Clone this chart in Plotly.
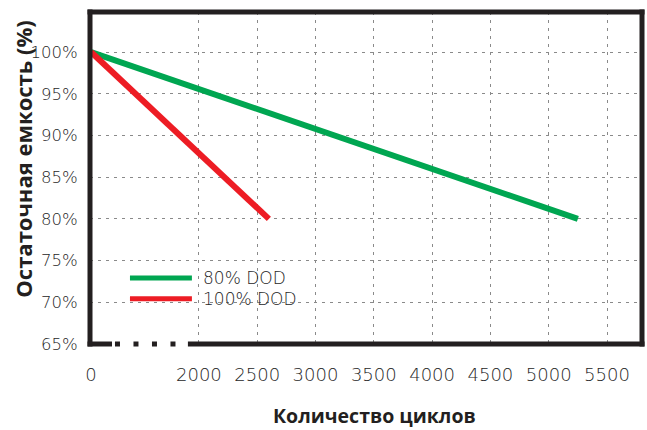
import plotly.graph_objects as go

# ---- data ----
series_names = ["80% DOD", "100% DOD"]
series_colors = ["#00A651", "#ED1C24"]
cycles_80 = [0, 5250]
capacity_80 = [100, 80]
cycles_100 = [0, 2600]
capacity_100 = [100, 80]
x_tick_values = [0, 2000, 2500, 3000, 3500, 4000, 4500, 5000, 5500]
x_tick_labels = ["0", "2000", "2500", "3000", "3500", "4000", "4500", "5000", "5500"]
y_tick_values = [65, 70, 75, 80, 85, 90, 95, 100]
y_tick_labels = ["65%", "70%", "75%", "80%", "85%", "90%", "95%", "100%"]
x_title = "Количество циклов"
y_title = "Остаточная емкость (%)"

# ---- broken x axis: 0..2000 cycles compressed ----
BREAK_FROM = 2000
ZERO_POS = 1075


def axis_pos(c):
    if c >= BREAK_FROM:
        return c
    return ZERO_POS + c * (BREAK_FROM - ZERO_POS) / BREAK_FROM


W, H = 647, 430
L, R, T, B = 90, 4.5, 11.7, 85.8
PW, PH = W - L - R, H - T - B


def px_x(p):
    return (p - L) / PW


def px_y(p):
    return (H - B - p) / PH


fig = go.Figure()
for name, color, xs, ys in [
    (series_names[0], series_colors[0], cycles_80, capacity_80),
    (series_names[1], series_colors[1], cycles_100, capacity_100),
]:
    fig.add_trace(go.Scatter(
        x=[axis_pos(v) for v in xs], y=ys, mode="lines", name=name,
        line=dict(color=color, width=6), showlegend=False,
        hoverinfo="skip",
    ))

text_color = "#262626"
grid = dict(showgrid=True, gridcolor="#8a8a8a", gridwidth=1, griddash="3px,5px",
            zeroline=False, showline=False)

fig.update_xaxes(
    range=[1066, 5800], tickmode="array",
    tickvals=[axis_pos(v) for v in x_tick_values], ticktext=x_tick_labels,
    ticks="outside", ticklen=14, tickcolor="rgba(0,0,0,0)",
    tickfont=dict(family="DejaVu Sans", size=18, color=text_color, weight=200),
    **grid,
)
fig.update_yaxes(
    range=[65, 104.8], tickmode="array", tickvals=y_tick_values, ticktext=y_tick_labels,
    ticks="outside", ticklen=8, tickcolor="rgba(0,0,0,0)",
    tickfont=dict(family="DejaVu Sans", size=16.5, color=text_color, weight=200),
    **grid,
)

frame = "#231F20"
ext_x = 2.5 / PW
ext_y = 2.5 / PH
shapes = [
    # top, left, right borders
    dict(type="line", xref="paper", yref="paper", x0=-ext_x, x1=1 + ext_x, y0=1, y1=1,
         line=dict(color=frame, width=5), layer="above"),
    dict(type="line", xref="paper", yref="paper", x0=0, x1=0, y0=-ext_y, y1=1 + ext_y,
         line=dict(color=frame, width=5), layer="above"),
    dict(type="line", xref="paper", yref="paper", x0=1, x1=1, y0=-ext_y, y1=1 + ext_y,
         line=dict(color=frame, width=5), layer="above"),
    # bottom border with axis-break dots
    dict(type="line", xref="paper", yref="paper", x0=-ext_x, x1=px_x(112), y0=0, y1=0,
         line=dict(color=frame, width=5), layer="above"),
    dict(type="line", xref="paper", yref="paper", x0=px_x(115), x1=px_x(176), y0=0, y1=0,
         line=dict(color=frame, width=5, dash="5px,13.5px"), layer="above"),
    dict(type="line", xref="paper", yref="paper", x0=px_x(188), x1=1 + ext_x, y0=0, y1=0,
         line=dict(color=frame, width=5), layer="above"),
    # legend background
    dict(type="rect", xref="paper", yref="paper", x0=px_x(115), x1=px_x(305),
         y0=px_y(310), y1=px_y(262), fillcolor="white", line=dict(width=0), layer="between"),
]

annotations = [
    dict(text=y_title, xref="paper", yref="paper", x=px_x(23.5), y=px_y(159), textangle=-90,
         showarrow=False, xanchor="center", yanchor="middle",
         font=dict(family="Open Sans", size=22, color=frame, weight=700)),
    dict(text=x_title, xref="paper", yref="paper", x=px_x(375), y=px_y(416),
         showarrow=False, xanchor="center", yanchor="middle",
         font=dict(family="Open Sans", size=19.5, color=frame, weight=700)),
]

# manual legend
leg_rows = [278, 299]
for name, color, ypx in zip(series_names, series_colors, leg_rows):
    shapes.append(dict(type="line", xref="paper", yref="paper", x0=px_x(130), x1=px_x(192),
                       y0=px_y(ypx), y1=px_y(ypx), line=dict(color=color, width=5), layer="above"))
    annotations.append(dict(text=name, xref="paper", yref="paper", x=px_x(201), y=px_y(ypx),
                            showarrow=False, xanchor="left", yanchor="middle",
                            font=dict(family="DejaVu Sans", size=17, color=text_color, weight=200)))

fig.update_layout(
    width=W, height=H, margin=dict(l=L, r=R, t=T, b=B),
    paper_bgcolor="white", plot_bgcolor="white",
    shapes=shapes, annotations=annotations, showlegend=False,
)

fig.write_html(
    "out.html",
    config={"displayModeBar": False},
    post_script="document.body.style.margin='0';document.body.style.overflow='hidden';",
)
